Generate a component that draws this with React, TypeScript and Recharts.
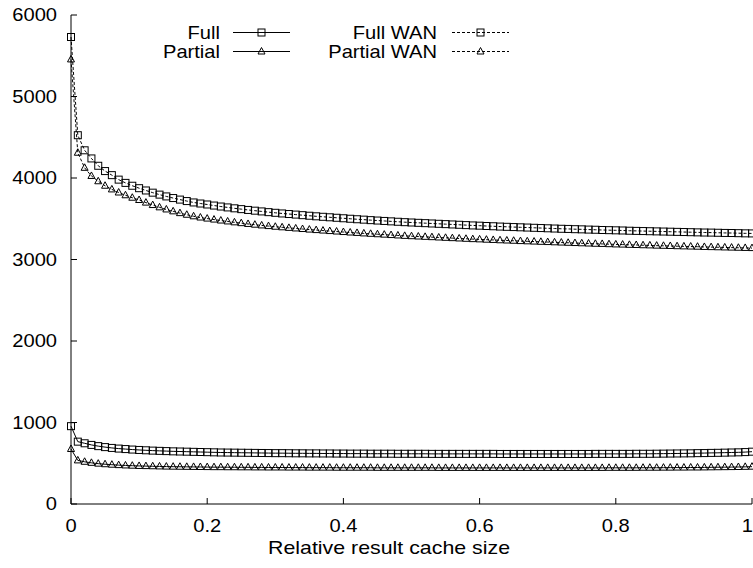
import { Line, LineChart, XAxis, YAxis } from 'recharts'

// relative result cache size
const xValues = [
  0, 0.01, 0.02, 0.03, 0.04, 0.05, 0.06, 0.07, 0.08, 0.09,
  0.1, 0.11, 0.12, 0.13, 0.14, 0.15, 0.16, 0.17, 0.18, 0.19,
  0.2, 0.21, 0.22, 0.23, 0.24, 0.25, 0.26, 0.27, 0.28, 0.29,
  0.3, 0.31, 0.32, 0.33, 0.34, 0.35, 0.36, 0.37, 0.38, 0.39,
  0.4, 0.41, 0.42, 0.43, 0.44, 0.45, 0.46, 0.47, 0.48, 0.49,
  0.5, 0.51, 0.52, 0.53, 0.54, 0.55, 0.56, 0.57, 0.58, 0.59,
  0.6, 0.61, 0.62, 0.63, 0.64, 0.65, 0.66, 0.67, 0.68, 0.69,
  0.7, 0.71, 0.72, 0.73, 0.74, 0.75, 0.76, 0.77, 0.78, 0.79,
  0.8, 0.81, 0.82, 0.83, 0.84, 0.85, 0.86, 0.87, 0.88, 0.89,
  0.9, 0.91, 0.92, 0.93, 0.94, 0.95, 0.96, 0.97, 0.98, 0.99,
  1,
]

const full = [
  955, 765, 745, 725, 710, 698, 688, 680, 674, 668,
  663, 659, 655, 652, 649, 646, 644, 642, 640, 638,
  636, 634, 632, 631, 630, 629, 628, 627, 626, 625,
  624, 624, 623, 622, 622, 621, 621, 620, 620, 619,
  619, 618, 618, 618, 617, 617, 617, 617, 616, 616,
  616, 616, 616, 615, 615, 615, 615, 615, 615, 615,
  615, 615, 615, 614, 614, 614, 614, 614, 614, 614,
  614, 614, 614, 614, 614, 614, 614, 615, 615, 615,
  615, 615, 615, 616, 616, 616, 617, 618, 619, 620,
  621, 622, 624, 625, 627, 628, 630, 632, 634, 637,
  642,
]

const partial = [
  675, 535, 518, 505, 495, 488, 482, 477, 473, 470,
  467, 465, 463, 461, 459, 458, 457, 456, 455, 454,
  453, 452, 452, 451, 451, 450, 450, 449, 449, 448,
  448, 448, 447, 447, 447, 446, 446, 446, 446, 445,
  445, 445, 445, 445, 445, 444, 444, 444, 444, 444,
  444, 444, 444, 444, 443, 443, 443, 443, 443, 443,
  443, 443, 443, 443, 443, 443, 443, 443, 443, 443,
  443, 443, 443, 443, 443, 443, 443, 443, 443, 444,
  444, 444, 444, 444, 445, 445, 445, 446, 446, 447,
  447, 448, 448, 449, 450, 451, 452, 453, 454, 456,
  458,
]

const fullWan = [
  5730, 4525, 4340, 4240, 4150, 4085, 4035, 3980, 3940, 3905,
  3875, 3847, 3820, 3796, 3774, 3754, 3735, 3717, 3700, 3687,
  3675, 3662, 3650, 3639, 3628, 3618, 3608, 3599, 3590, 3581,
  3573, 3565, 3558, 3551, 3544, 3537, 3530, 3524, 3518, 3512,
  3506, 3500, 3494, 3489, 3483, 3478, 3473, 3468, 3463, 3458,
  3454, 3450, 3446, 3442, 3438, 3434, 3430, 3426, 3422, 3418,
  3415, 3411, 3408, 3404, 3401, 3398, 3395, 3392, 3389, 3386,
  3383, 3380, 3377, 3375, 3372, 3370, 3367, 3365, 3362, 3360,
  3358, 3356, 3353, 3351, 3349, 3347, 3345, 3343, 3341, 3339,
  3337, 3335, 3333, 3331, 3330, 3328, 3326, 3325, 3323, 3321,
  3320,
]

const partialWan = [
  5455, 4310, 4125, 4025, 3960, 3905, 3860, 3822, 3788, 3758,
  3730, 3698, 3668, 3640, 3614, 3591, 3569, 3549, 3530, 3515,
  3502, 3490, 3478, 3467, 3456, 3446, 3436, 3427, 3418, 3410,
  3402, 3395, 3388, 3381, 3374, 3367, 3361, 3355, 3349, 3343,
  3337, 3331, 3326, 3320, 3315, 3310, 3305, 3300, 3295, 3290,
  3286, 3282, 3278, 3274, 3270, 3266, 3262, 3258, 3254, 3250,
  3247, 3243, 3240, 3236, 3233, 3230, 3226, 3223, 3220, 3217,
  3214, 3211, 3208, 3205, 3202, 3199, 3196, 3193, 3191, 3188,
  3185, 3183, 3180, 3178, 3175, 3173, 3170, 3168, 3166, 3163,
  3161, 3159, 3157, 3154, 3152, 3150, 3148, 3146, 3144, 3142,
  3140,
]

const xTicks = [0, 0.2, 0.4, 0.6, 0.8, 1]
const yTicks = [0, 1000, 2000, 3000, 4000, 5000, 6000]

const data = xValues.map((x, i) => ({
  x,
  full: full[i],
  partial: partial[i],
  fullWan: fullWan[i],
  partialWan: partialWan[i],
}))

const FONT = '"Liberation Sans", Arial, Helvetica, sans-serif'
const DASH = '3 2'

// gnuplot's helvetica comes out a bit wide, so stretch the text
function Txt({ x, y, anchor, sx = 1.15, children }: any) {
  return (
    <text
      transform={`translate(${x},${y}) scale(${sx},1)`}
      textAnchor={anchor}
      fontFamily={FONT}
      fontSize={17.5}
      fill="#000"
    >
      {children}
    </text>
  )
}

function SquareDot({ cx, cy }: any) {
  if (cx == null || cy == null) return null
  return (
    <rect x={cx - 3.5} y={cy - 3.5} width={7} height={7} fill="none" stroke="#000" strokeWidth={1} />
  )
}

function TriangleDot({ cx, cy }: any) {
  if (cx == null || cy == null) return null
  return (
    <path
      d={`M${cx},${cy - 4}L${cx + 3.5},${cy + 2.5}L${cx - 3.5},${cy + 2.5}Z`}
      fill="none"
      stroke="#000"
      strokeWidth={1}
    />
  )
}

function BottomTick({ x, y, payload }: any) {
  // last label sits on the canvas edge, keep it inside
  const last = payload.value === xTicks[xTicks.length - 1]
  return (
    <g>
      <line x1={x} x2={x} y1={y} y2={y - 6} stroke="#000" />
      <Txt x={last ? x + 1 : x} y={y + 28} anchor={last ? 'end' : 'middle'}>
        {String(payload.value)}
      </Txt>
    </g>
  )
}

function TopTick({ x, y }: any) {
  return <line x1={x} x2={x} y1={y} y2={y + 6} stroke="#000" />
}

function LeftTick({ x, y, payload }: any) {
  return (
    <g>
      <line x1={x} x2={x + 6} y1={y} y2={y} stroke="#000" />
      <Txt x={x - 14} y={y + 6.3} anchor="end">
        {String(payload.value)}
      </Txt>
    </g>
  )
}

function RightTick({ x, y }: any) {
  return <line x1={x} x2={x - 6} y1={y} y2={y} stroke="#000" />
}

function KeyRow({ label, textX, x1, x2, y, dashed, marker }: any) {
  const mx = (x1 + x2) / 2
  return (
    <g>
      <Txt x={textX} y={y + 6.3} anchor="end">
        {label}
      </Txt>
      <line x1={x1} x2={x2} y1={y} y2={y} stroke="#000" strokeDasharray={dashed ? DASH : undefined} />
      {marker === 'square' ? <SquareDot cx={mx} cy={y} /> : <TriangleDot cx={mx} cy={y} />}
    </g>
  )
}

export default function App() {
  return (
    <div style={{ position: 'absolute', left: 0, top: 0, width: 753, height: 568, background: '#fff' }}>
      <LineChart width={753} height={568} data={data} margin={{ top: 15, right: 1, bottom: 0, left: 0 }}>
        <XAxis
          dataKey="x"
          type="number"
          domain={[0, 1]}
          ticks={xTicks}
          interval={0}
          height={64}
          tickSize={0}
          tickMargin={0}
          tickLine={false}
          tick={BottomTick}
          axisLine={{ stroke: '#000' }}
        />
        <XAxis
          xAxisId="top"
          orientation="top"
          dataKey="x"
          type="number"
          domain={[0, 1]}
          ticks={xTicks}
          interval={0}
          height={0}
          tickSize={0}
          tickMargin={0}
          tickLine={false}
          tick={TopTick}
          axisLine={{ stroke: '#000' }}
        />
        <YAxis
          type="number"
          domain={[0, 6000]}
          ticks={yTicks}
          interval={0}
          width={71}
          tickSize={0}
          tickMargin={0}
          tickLine={false}
          tick={LeftTick}
          axisLine={{ stroke: '#000' }}
        />
        <YAxis
          yAxisId="right"
          orientation="right"
          type="number"
          domain={[0, 6000]}
          ticks={yTicks}
          interval={0}
          width={0}
          tickSize={0}
          tickMargin={0}
          tickLine={false}
          tick={RightTick}
          axisLine={{ stroke: '#000' }}
        />
        <Line type="linear" dataKey="full" stroke="#000" strokeWidth={1} dot={<SquareDot />} isAnimationActive={false} />
        <Line type="linear" dataKey="partial" stroke="#000" strokeWidth={1} dot={<TriangleDot />} isAnimationActive={false} />
        <Line type="linear" dataKey="fullWan" stroke="#000" strokeWidth={1} strokeDasharray={DASH} dot={<SquareDot />} isAnimationActive={false} />
        <Line type="linear" dataKey="partialWan" stroke="#000" strokeWidth={1} strokeDasharray={DASH} dot={<TriangleDot />} isAnimationActive={false} />
      </LineChart>
      <svg width={753} height={568} style={{ position: 'absolute', left: 0, top: 0, pointerEvents: 'none' }}>
        <KeyRow label="Full" textX={220} x1={233} x2={290} y={32.5} marker="square" />
        <KeyRow label="Partial" textX={220} x1={233} x2={290} y={51.5} marker="triangle" />
        <KeyRow label="Full WAN" textX={437} x1={452} x2={509} y={32.5} dashed marker="square" />
        <KeyRow label="Partial WAN" textX={437} x1={452} x2={509} y={51.5} dashed marker="triangle" />
        <Txt x={389} y={554} anchor="middle" sx={1.22}>
          Relative result cache size
        </Txt>
      </svg>
    </div>
  )
}
